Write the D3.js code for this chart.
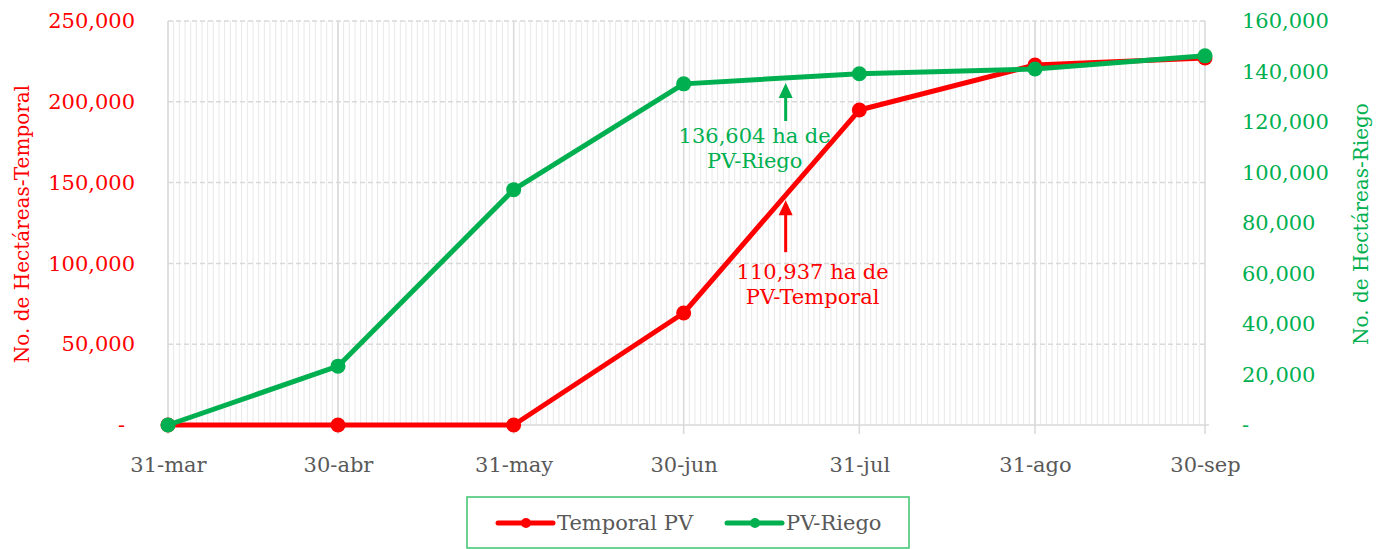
<!DOCTYPE html>
<html lang="es">
<head>
<meta charset="UTF-8">
<title>Avance PV Temporal / Riego</title>
<script src="https://cdn.jsdelivr.net/npm/d3@7"></script>
<style>
  body { margin: 0; background: #fff; }
  svg { font-family: "DejaVu Serif", serif; }
</style>
</head>
<body>
<div id="chart"></div>
<script>
// data
const dates = ["2023-03-31", "2023-04-30", "2023-05-31", "2023-06-30", "2023-07-31", "2023-08-31", "2023-09-30"];
const xTickLabels = ["31-mar", "30-abr", "31-may", "30-jun", "31-jul", "31-ago", "30-sep"];
const temporal = [0, 0, 0, 69300, 194900, 222800, 227100];
const riego = [0, 23300, 93200, 135100, 139100, 141000, 146200];
const leftTicks = [0, 50000, 100000, 150000, 200000, 250000];
const rightTicks = [0, 20000, 40000, 60000, 80000, 100000, 120000, 140000, 160000];
const noteDate = "2023-07-18";
const noteTemporal = ["110,937 ha de", "PV-Temporal"];
const noteRiego = ["136,604 ha de", "PV-Riego"];

const W = 1380, H = 549;
const margin = { top: 21, right: 175, bottom: 124, left: 168 };
const width = W - margin.left - margin.right,
      height = H - margin.top - margin.bottom;

const RED = "#ff0000", GREEN = "#00b050";
const FS = "21px";
const parse = d3.timeParse("%Y-%m-%d");
const fmt = v => v === 0 ? "-" : d3.format(",")(v);

const svg = d3.select("#chart").append("svg")
  .attr("width", W).attr("height", H);
const g = svg.append("g").attr("transform", `translate(${margin.left},${margin.top})`);

const x = d3.scaleTime()
  .domain([parse(dates[0]), parse(dates[dates.length - 1])])
  .range([0, width]);
const yL = d3.scaleLinear().domain([0, 250000]).range([height, 0]);
const yR = d3.scaleLinear().domain([0, 160000]).range([height, 0]);

// daily minor gridlines
g.append("g").selectAll("line")
  .data(d3.timeDay.range(x.domain()[0], x.domain()[1]))
  .join("line")
  .attr("x1", d => x(d)).attr("x2", d => x(d))
  .attr("y1", 0).attr("y2", height)
  .attr("stroke", "#e8e8e8").attr("stroke-width", 1);

// horizontal dashed gridlines
g.append("g").selectAll("line")
  .data(leftTicks.filter(d => d > 0))
  .join("line")
  .attr("x1", 0).attr("x2", width)
  .attr("y1", d => yL(d)).attr("y2", d => yL(d))
  .attr("stroke", "#d9d9d9").attr("stroke-width", 1.5)
  .attr("stroke-dasharray", "5,3");

// monthly major gridlines
g.append("g").selectAll("line")
  .data(dates.map(parse))
  .join("line")
  .attr("x1", d => x(d)).attr("x2", d => x(d))
  .attr("y1", 0).attr("y2", height + 9)
  .attr("stroke", "#d9d9d9").attr("stroke-width", 1.5);

g.append("line")
  .attr("x1", 0).attr("x2", width + 4)
  .attr("y1", height).attr("y2", height)
  .attr("stroke", "#d9d9d9").attr("stroke-width", 1.5);

// axes
const xAxis = g.append("g")
  .attr("transform", `translate(0,${height})`)
  .call(d3.axisBottom(x).tickValues(dates.map(parse))
    .tickFormat((d, i) => xTickLabels[i]).tickSize(0).tickPadding(32));
const yAxisL = g.append("g")
  .call(d3.axisLeft(yL).tickValues(leftTicks).tickFormat(fmt).tickSize(0).tickPadding(33));
const yAxisR = g.append("g")
  .attr("transform", `translate(${width},0)`)
  .call(d3.axisRight(yR).tickValues(rightTicks).tickFormat(fmt).tickSize(0).tickPadding(37));

[xAxis, yAxisL, yAxisR].forEach(a => {
  a.select(".domain").remove();
  a.selectAll("text").style("font-family", "DejaVu Serif, serif").style("font-size", FS);
});
xAxis.selectAll("text").attr("fill", "#595959");
yAxisL.selectAll("text").attr("fill", RED);
yAxisR.selectAll("text").attr("fill", GREEN);
// accounting-style dash for zero sits a bit further left
yAxisL.selectAll(".tick").filter(d => d === 0).select("text").attr("dx", -10);

// axis titles
svg.append("text")
  .attr("transform", `translate(29,${margin.top + height / 2 + 1}) rotate(-90)`)
  .attr("text-anchor", "middle").attr("fill", RED)
  .style("font-size", "20px")
  .text("No. de Hectáreas-Temporal");
svg.append("text")
  .attr("transform", `translate(1368,${margin.top + height / 2 + 1}) rotate(-90)`)
  .attr("text-anchor", "middle").attr("fill", GREEN)
  .style("font-size", "20px")
  .text("No. de Hectáreas-Riego");

// series
const series = [
  { name: "Temporal PV", values: temporal, y: yL, color: RED },
  { name: "PV-Riego", values: riego, y: yR, color: GREEN }
];

series.forEach(s => {
  const pts = dates.map((d, i) => ({ date: parse(d), v: s.values[i] }));
  g.append("path")
    .datum(pts)
    .attr("fill", "none")
    .attr("stroke", s.color)
    .attr("stroke-width", 5)
    .attr("stroke-linejoin", "round")
    .attr("d", d3.line().x(d => x(d.date)).y(d => s.y(d.v)));
  g.append("g").selectAll("circle")
    .data(pts)
    .join("circle")
    .attr("cx", d => x(d.date)).attr("cy", d => s.y(d.v))
    .attr("r", 7.5).attr("fill", s.color);
});

// annotations: arrow pointing up to the line at noteDate
function valueAt(values, date) {
  const ds = dates.map(parse);
  const i = d3.bisectRight(ds, date);
  const t = (date - ds[i - 1]) / (ds[i] - ds[i - 1]);
  return values[i - 1] + t * (values[i] - values[i - 1]);
}

function arrowNote(values, yScale, color, lines, gap, len, textDx, textDy) {
  const d = parse(noteDate);
  const ax = x(d);
  const tip = yScale(valueAt(values, d)) + gap;
  const a = g.append("g");
  a.append("line")
    .attr("x1", ax).attr("x2", ax)
    .attr("y1", tip + len).attr("y2", tip + 12)
    .attr("stroke", color).attr("stroke-width", 3);
  a.append("path")
    .attr("d", `M${ax},${tip} L${ax - 7},${tip + 15} L${ax + 7},${tip + 15} Z`)
    .attr("fill", color);
  const t = a.append("text")
    .attr("text-anchor", "middle").attr("fill", color)
    .style("font-size", FS);
  lines.forEach((l, i) => {
    t.append("tspan")
      .attr("x", ax + textDx)
      .attr("y", tip + len + textDy + i * 25)
      .text(l);
  });
}

arrowNote(temporal, yL, RED, noteTemporal, 5, 52, 27, 27);
arrowNote(riego, yR, GREEN, noteRiego, 5, 38, -31, 22);

// legend
const leg = svg.append("g").attr("transform", "translate(467,497)");
leg.append("rect")
  .attr("width", 442).attr("height", 51)
  .attr("fill", "#fff").attr("stroke", "#3cc46e").attr("stroke-width", 1.5);
const legX = [31, 260];
series.forEach((s, i) => {
  const it = leg.append("g").attr("transform", `translate(${legX[i]},26)`);
  it.append("line").attr("x1", 0).attr("x2", 55)
    .attr("stroke", s.color).attr("stroke-width", 5).attr("stroke-linecap", "round");
  it.append("circle").attr("cx", 28).attr("r", 5).attr("fill", s.color);
  it.append("text").attr("x", 59).attr("y", 7)
    .attr("fill", "#595959").style("font-size", FS).text(s.name);
});
</script>
</body>
</html>
